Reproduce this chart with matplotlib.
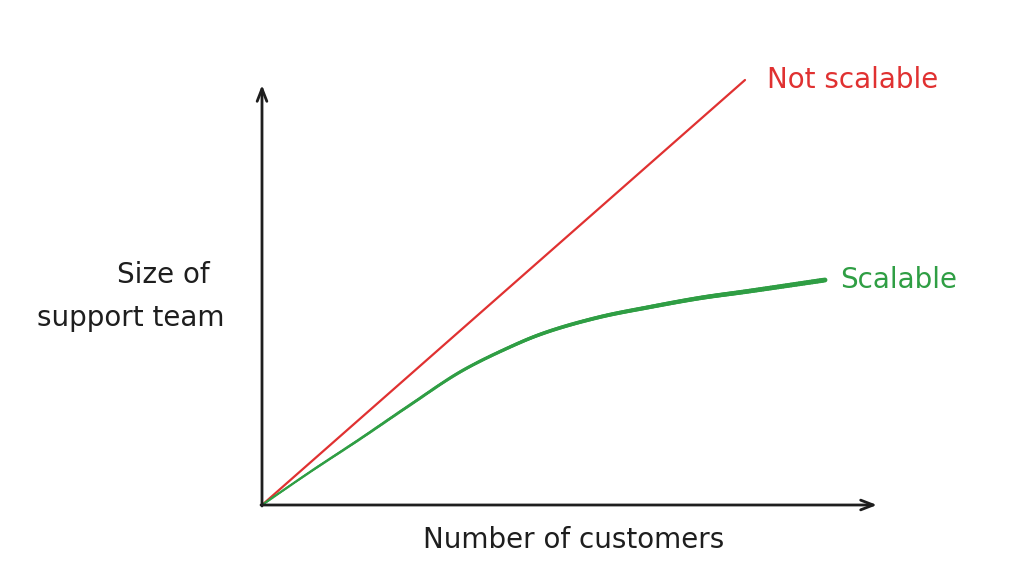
import matplotlib.pyplot as plt
import numpy as np
from matplotlib.collections import LineCollection

# Data (arbitrary units, origin at the corner of the axes)
customers_red = [0, 483]
team_red = [0, 425]

customers_green = [0, 48, 98, 148, 198, 248, 288, 338, 388, 438, 488, 563]
team_green = [0, 33, 66, 100, 133, 158, 174, 188, 198, 207, 214, 225]

x_axis_len = 615
y_axis_len = 420

RED = '#e03131'
GREEN = '#2f9e44'
INK = '#1e1e1e'


def catmull_rom(x, y, n=30):
    # smooth curve through the given points
    p = np.column_stack([x, y]).astype(float)
    p = np.vstack([2 * p[0] - p[1], p, 2 * p[-1] - p[-2]])
    out = []
    for i in range(1, len(p) - 2):
        p0, p1, p2, p3 = p[i - 1], p[i], p[i + 1], p[i + 2]
        t = np.linspace(0, 1, n, endpoint=False)[:, None]
        out.append(0.5 * ((2 * p1) + (-p0 + p2) * t
                          + (2 * p0 - 5 * p1 + 4 * p2 - p3) * t ** 2
                          + (-p0 + 3 * p1 - 3 * p2 + p3) * t ** 3))
    out.append(p[-2][None, :])
    return np.vstack(out)


fig = plt.figure(figsize=(10.24, 5.81), dpi=100)
ax = fig.add_axes([0, 0, 1, 1])
ax.set_xlim(-262, 762)
ax.set_ylim(-76, 505)
ax.axis('off')

# Axes drawn as arrows
ax.annotate('', xy=(0, y_axis_len), xytext=(0, -1),
            arrowprops=dict(arrowstyle='->,head_length=0.9,head_width=0.35',
                            color=INK, lw=2, shrinkA=0, shrinkB=0))
ax.annotate('', xy=(x_axis_len, 0), xytext=(-1, 0),
            arrowprops=dict(arrowstyle='->,head_length=0.9,head_width=0.35',
                            color=INK, lw=2, shrinkA=0, shrinkB=0))

# Not scalable: straight line
ax.plot(customers_red, team_red, color=RED, linewidth=1.6, solid_capstyle='round')

# Scalable: smooth curve, stroke thickens to the right
curve = catmull_rom(customers_green, team_green)
pts = curve.reshape(-1, 1, 2)
segs = np.concatenate([pts[:-1], pts[1:]], axis=1)
widths = np.linspace(1.5, 3.5, len(segs))
lc = LineCollection(segs, colors=GREEN, linewidths=widths, capstyle='round')
ax.add_collection(lc)

# Labels
fs = 20
ax.text(505, 425, 'Not scalable', color=RED, fontsize=fs, ha='left', va='center')
ax.text(578, 225, 'Scalable', color=GREEN, fontsize=fs, ha='left', va='center')
ax.text(-99, 230, 'Size of', color=INK, fontsize=fs, ha='center', va='center')
ax.text(-131, 187, 'support team', color=INK, fontsize=fs, ha='center', va='center')
ax.text(312, -35, 'Number of customers', color=INK, fontsize=fs, ha='center', va='center')

plt.savefig('out.png', dpi=100)
